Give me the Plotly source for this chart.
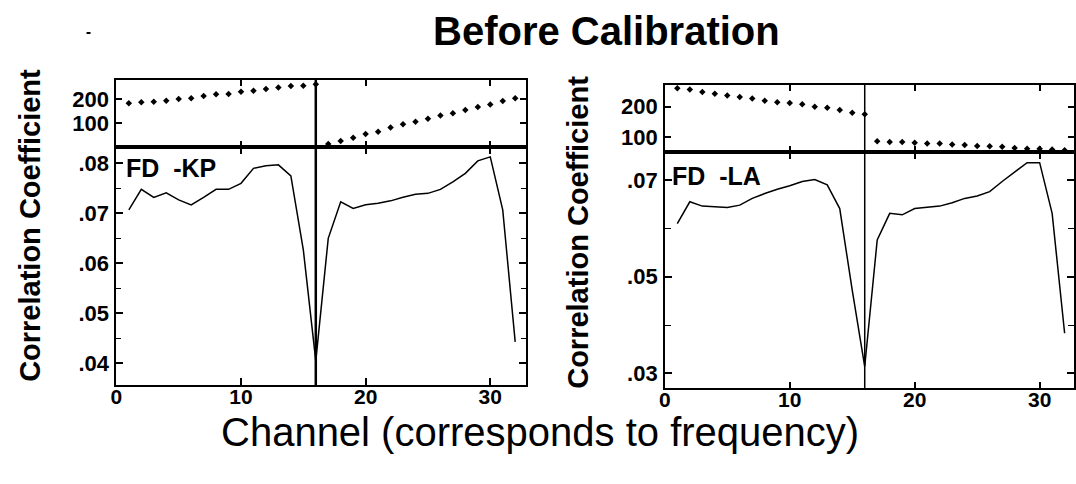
import plotly.graph_objects as go

# ---------------- data ----------------
channels = list(range(1, 33))
kp_corr = [0.0707, 0.0748, 0.0732, 0.0741, 0.0727, 0.0717, 0.0732, 0.0748, 0.0748, 0.0760,
           0.0790, 0.0795, 0.0797, 0.0775, 0.0627, 0.0405, 0.0650, 0.0723, 0.0710, 0.0717,
           0.0720, 0.0725, 0.0732, 0.0738, 0.0740, 0.0748, 0.0763, 0.0780, 0.0805, 0.0813,
           0.0707, 0.0443]
la_corr = [0.0610, 0.0655, 0.0646, 0.0645, 0.0643, 0.0648, 0.0662, 0.0672, 0.0681, 0.0688,
           0.0697, 0.0701, 0.0690, 0.0641, 0.0472, 0.0314, 0.0576, 0.0631, 0.0628, 0.0641,
           0.0643, 0.0646, 0.0653, 0.0662, 0.0667, 0.0676, 0.0697, 0.0717, 0.0736, 0.0736,
           0.0631, 0.0383]

ch_first = list(range(1, 17))
ch_second = list(range(17, 33))
kp_upper_first = [183, 187, 189, 193, 201, 204, 213, 220, 221, 231, 235, 242, 249, 255, 256, 262]
kp_upper_second = [13, 25, 39, 54, 64, 81, 95, 106, 118, 132, 141, 155, 167, 178, 192, 204]
la_upper_first = [261, 257, 249, 243, 237, 232, 227, 220, 215, 212, 208, 200, 197, 189, 180, 175]
la_upper_second = [86, 83, 83, 81, 78, 78, 75, 73, 70, 69, 67, 63, 61, 61, 58, 56]

x_tick_vals = [0, 10, 20, 30]
x_tick_text = ["0", "10", "20", "30"]
kp_y_vals = [0.04, 0.05, 0.06, 0.07, 0.08]
kp_y_text = [".04", ".05", ".06", ".07", ".08"]
la_y_vals = [0.03, 0.05, 0.07]
la_y_text = [".03", ".05", ".07"]
upper_vals = [100, 200]
upper_text = ["100", "200"]
split_channel = 16

# ---------------- layout helpers ----------------
W, H = 1076, 484
def fx(p):
    return p / W
def fy(p):
    return 1 - p / H

FONT = "Liberation Sans, Arial, sans-serif"
tickfont_y = dict(family=FONT, size=22, color="black", weight="bold")
tickfont_x = dict(family=FONT, size=21, color="black", weight="bold")

fig = go.Figure()
line_style = dict(color="black", width=1.5)
dot_style = dict(symbol="diamond", size=5, color="black")

fig.add_trace(go.Scatter(x=channels, y=kp_corr, mode="lines", line=line_style, xaxis="x", yaxis="y"))
fig.add_trace(go.Scatter(x=ch_first, y=kp_upper_first, mode="markers", marker=dot_style, xaxis="x2", yaxis="y2"))
fig.add_trace(go.Scatter(x=ch_second, y=kp_upper_second, mode="markers", marker=dot_style, xaxis="x2", yaxis="y2"))
fig.add_trace(go.Scatter(x=channels, y=la_corr, mode="lines", line=line_style, xaxis="x3", yaxis="y3"))
fig.add_trace(go.Scatter(x=ch_first, y=la_upper_first, mode="markers", marker=dot_style, xaxis="x4", yaxis="y4"))
fig.add_trace(go.Scatter(x=ch_second, y=la_upper_second, mode="markers", marker=dot_style, xaxis="x4", yaxis="y4"))

common = dict(showline=True, linecolor="black", mirror="ticks", ticks="inside",
              tickcolor="black", showgrid=False, zeroline=False)

L_dom = [fx(111), fx(522.7)]
R_dom = [fx(662.5), fx(1074)]

fig.update_layout(
    width=W, height=H,
    margin=dict(l=0, r=0, t=0, b=0),
    paper_bgcolor="white", plot_bgcolor="white",
    showlegend=False,
    xaxis=dict(domain=L_dom, range=[0, 32.85], anchor="y", linewidth=2, ticklen=7, tickwidth=1.5,
               tickmode="array", tickvals=x_tick_vals, ticktext=x_tick_text, tickfont=tickfont_x,
               ticklabelstandoff=-8, **common),
    yaxis=dict(domain=[fy(385), fy(147)], range=[0.03567, 0.08327], anchor="x", linewidth=2,
               ticklen=7, tickwidth=1.5, tickmode="array", tickvals=kp_y_vals, ticktext=kp_y_text,
               tickfont=tickfont_y, ticklabelstandoff=1,
               minor=dict(ticks="inside", ticklen=5, tickwidth=1.2, tickcolor="black", dtick=0.005, tick0=0),
               **common),
    xaxis2=dict(domain=L_dom, range=[0, 32.85], anchor="y2", linewidth=2, ticklen=6, tickwidth=1.5,
                tickmode="array", tickvals=x_tick_vals, showticklabels=False, **common),
    yaxis2=dict(domain=[fy(147), fy(80)], range=[0, 280], anchor="x2", linewidth=2, ticklen=6,
                tickwidth=1.5, tickmode="array", tickvals=upper_vals, ticktext=upper_text,
                tickfont=tickfont_y, ticklabelstandoff=1, **common),
    xaxis3=dict(domain=R_dom, range=[0, 32.75], anchor="y3", linewidth=1.5, ticklen=7, tickwidth=1.5,
                tickmode="array", tickvals=x_tick_vals, ticktext=x_tick_text, tickfont=tickfont_x,
                ticklabelstandoff=-8, **common),
    yaxis3=dict(domain=[fy(388.3), fy(152)], range=[0.0269, 0.0758], anchor="x3", linewidth=1.5,
                ticklen=7, tickwidth=1.5, tickmode="array", tickvals=la_y_vals, ticktext=la_y_text,
                tickfont=tickfont_y, ticklabelstandoff=1,
                minor=dict(ticks="inside", ticklen=6, tickwidth=1.2, tickcolor="black", dtick=0.01, tick0=0),
                **common),
    xaxis4=dict(domain=R_dom, range=[0, 32.75], anchor="y4", linewidth=1.5, ticklen=6, tickwidth=1.5,
                tickmode="array", tickvals=x_tick_vals, showticklabels=False, **common),
    yaxis4=dict(domain=[fy(152), fy(85)], range=[50, 272], anchor="x4", linewidth=1.5, ticklen=6,
                tickwidth=1.5, tickmode="array", tickvals=upper_vals, ticktext=upper_text,
                tickfont=tickfont_y, ticklabelstandoff=1, **common),
)

# vertical separators at the split channel (span upper and lower panels)
fig.add_shape(type="line", xref="x", yref="paper", x0=split_channel, x1=split_channel,
              y0=fy(385), y1=fy(80), line=dict(color="black", width=2.5))
fig.add_shape(type="line", xref="x3", yref="paper", x0=split_channel, x1=split_channel,
              y0=fy(388.3), y1=fy(85), line=dict(color="black", width=1.5))
# small speck near the top-left
fig.add_shape(type="line", xref="paper", yref="paper", x0=fx(81), x1=fx(85), y0=fy(33), y1=fy(33),
              line=dict(color="black", width=2))

ann_font_bold = dict(family=FONT, color="black", weight="bold")
fig.add_annotation(text="Before Calibration", xref="paper", yref="paper", x=fx(604), y=fy(31),
                   xanchor="center", yanchor="middle", showarrow=False,
                   font=dict(size=40, **ann_font_bold))
fig.add_annotation(text="Channel (corresponds to frequency)", xref="paper", yref="paper",
                   x=fx(537), y=fy(432), xanchor="center", yanchor="middle", showarrow=False,
                   font=dict(family=FONT, size=40, color="black"))
fig.add_annotation(text="Correlation Coefficient", xref="paper", yref="paper", x=fx(24), y=fy(225),
                   xanchor="center", yanchor="middle", showarrow=False, textangle=-90,
                   font=dict(size=29, **ann_font_bold))
fig.add_annotation(text="Correlation Coefficient", xref="paper", yref="paper", x=fx(575), y=fy(232),
                   xanchor="center", yanchor="middle", showarrow=False, textangle=-90,
                   font=dict(size=29, **ann_font_bold))
fig.add_annotation(text="FD\u00a0\u00a0-KP", xref="paper", yref="paper", x=fx(119), y=fy(168),
                   xanchor="left", yanchor="middle", showarrow=False,
                   font=dict(size=25, **ann_font_bold))
fig.add_annotation(text="FD\u00a0\u00a0-LA", xref="paper", yref="paper", x=fx(668), y=fy(176),
                   xanchor="left", yanchor="middle", showarrow=False,
                   font=dict(size=25, **ann_font_bold))

fig.write_html("out.html")
